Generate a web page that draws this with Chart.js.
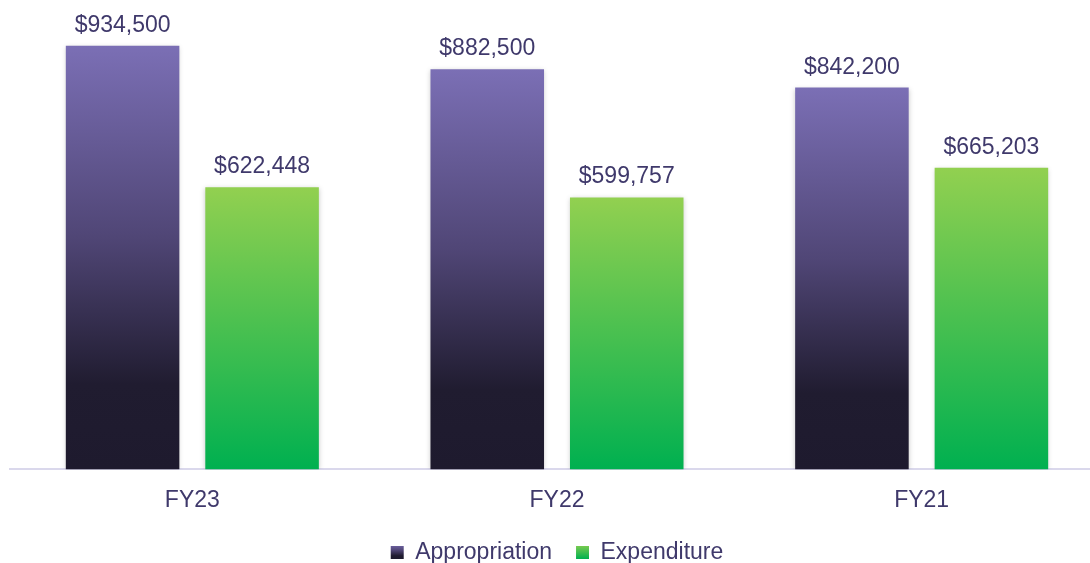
<!DOCTYPE html>
<html>
<head>
<meta charset="utf-8">
<script src="https://cdn.jsdelivr.net/npm/chart.js@4"></script>
<style>
  html, body { margin: 0; padding: 0; background: #fff; overflow: hidden; }
  #wrap { position: relative; width: 1104px; height: 574px; }
</style>
</head>
<body>
<div id="wrap"><canvas id="budgetChart"></canvas></div>
<script>
// Data
const years = ['FY23', 'FY22', 'FY21'];
const appropriation = [934500, 882500, 842200];
const expenditure = [622448, 599757, 665203];
const axisMax = 1000000;

const textColor = '#3f396b';
const fontFamily = "'Liberation Sans', Arial, sans-serif";

// gradient stops (top -> bottom of each bar)
const purpleStops = [[0, '#7b6fb5'], [0.45, '#504676'], [0.8, '#201c30'], [1, '#1e1a2e']];
const greenStops = [[0, '#92d050'], [1, '#00b050']];

function barGradient(ctx, stops) {
    const chart = ctx.chart;
    const area = chart.chartArea;
    if (!area || ctx.raw === undefined) return stops[0][1];
    const y = chart.scales.y;
    const top = y.getPixelForValue(ctx.raw);
    const bottom = y.getPixelForValue(0);
    const g = chart.ctx.createLinearGradient(0, top, 0, bottom);
    stops.forEach(s => g.addColorStop(s[0], s[1]));
    return g;
}

function legendGradient(chart, stops) {
    const h = chart.height;
    const g = chart.ctx.createLinearGradient(0, h - 31, 0, h - 15);
    stops.forEach(s => g.addColorStop(s[0], s[1]));
    return g;
}

// value labels above bars
const valueLabels = {
    id: 'valueLabels',
    afterDatasetsDraw(chart) {
        const ctx = chart.ctx;
        ctx.save();
        ctx.font = '23px ' + fontFamily;
        ctx.fillStyle = textColor;
        ctx.textAlign = 'center';
        ctx.textBaseline = 'alphabetic';
        chart.data.datasets.forEach((ds, i) => {
            chart.getDatasetMeta(i).data.forEach((bar, j) => {
                ctx.fillText('$' + ds.data[j].toLocaleString('en-US'), bar.x, bar.y - 14);
            });
        });
        ctx.restore();
    }
};

// soft shadow behind bars
const barShadow = {
    id: 'barShadow',
    beforeDatasetsDraw(chart) {
        const ctx = chart.ctx;
        ctx.save();
        ctx.shadowColor = 'rgba(0,0,0,0.22)';
        ctx.shadowBlur = 5;
        ctx.shadowOffsetX = 0;
        ctx.shadowOffsetY = 1;
    },
    afterDatasetsDraw(chart) {
        chart.ctx.restore();
    }
};

new Chart(document.getElementById('budgetChart'), {
    type: 'bar',
    data: {
        labels: years,
        datasets: [
            {
                label: 'Appropriation',
                data: appropriation,
                backgroundColor: ctx => barGradient(ctx, purpleStops),
                borderWidth: 0,
                categoryPercentage: 0.765,
                barPercentage: 0.814
            },
            {
                label: 'Expenditure',
                data: expenditure,
                backgroundColor: ctx => barGradient(ctx, greenStops),
                borderWidth: 0,
                categoryPercentage: 0.765,
                barPercentage: 0.814
            }
        ]
    },
    options: {
        responsive: true,
        maintainAspectRatio: false,
        animation: false,
        layout: {
            padding: { top: 16, left: 10, right: 0, bottom: 0 }
        },
        scales: {
            x: {
                grid: { display: false, drawTicks: false },
                border: { display: true, color: '#dad8ec', width: 2 },
                ticks: {
                    color: textColor,
                    font: { size: 23, family: fontFamily },
                    padding: 17
                },
                afterFit(scale) {
                    scale.height -= 14;
                }
            },
            y: {
                display: false,
                min: 0,
                max: axisMax
            }
        },
        plugins: {
            tooltip: { enabled: false },
            legend: {
                position: 'bottom',
                labels: {
                    color: textColor,
                    font: { size: 23, family: fontFamily },
                    boxWidth: 13,
                    boxHeight: 13,
                    padding: 24,
                    generateLabels(chart) {
                        return chart.data.datasets.map((ds, i) => ({
                            text: ds.label,
                            fillStyle: legendGradient(chart, i === 0 ? purpleStops : greenStops),
                            strokeStyle: 'rgba(0,0,0,0)',
                            lineWidth: 0,
                            fontColor: textColor,
                            hidden: false,
                            datasetIndex: i
                        }));
                    }
                }
            }
        }
    },
    plugins: [barShadow, valueLabels]
});
</script>
</body>
</html>
